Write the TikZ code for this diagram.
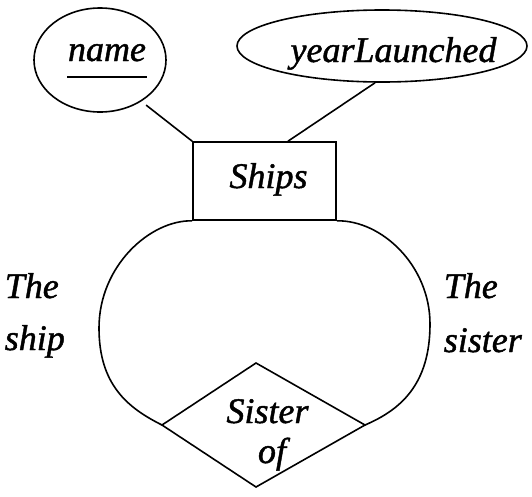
\documentclass[tikz,border=0pt]{standalone}
\usepackage{fontspec}
\setmainfont{Liberation Serif}
\newfontface\labelfont{Liberation Serif Italic}[FakeBold=1.2]
\usetikzlibrary{shapes.geometric}
\begin{document}
\begin{tikzpicture}[x=1pt,y=-1pt,line width=1.6pt,
  lbl/.style={font=\fontsize{36}{40}\selectfont\labelfont, inner sep=0pt, anchor=base},
  attr/.style={draw, ellipse, inner sep=0pt},
  entity/.style={draw, rectangle, inner sep=0pt}]
\useasboundingbox (0,0) rectangle (532,496);
% attributes
\node[attr, minimum width=132pt, minimum height=104pt] (name) at (100,60) {};
\node[attr, minimum width=290pt, minimum height=72pt] (year) at (382,46) {};
\node[lbl] (nametxt) at (107,61) {name};
\draw ([yshift=-16pt]nametxt.base west) -- ([yshift=-16pt]nametxt.base east);
\node[lbl] (yeartxt) at (393.5,62) {yearLaunched};
% entity
\node[entity, minimum width=143pt, minimum height=78pt] (ships) at (264.5,181) {};
\node[lbl] (shipstxt) at (268.5,188) {Ships};
% connectors
\draw[shorten >=6pt] (ships.north west) -- (name.-45);
\draw ([xshift=23.5pt]ships.north) -- ([xshift=-7pt]year.south);
% relationship
\coordinate (dL) at (162,425);
\coordinate (dR) at (365,425);
\coordinate (dT) at (256,363);
\coordinate (dB) at (256,487);
\draw[line join=miter] (dL) -- (dT) -- (dR) -- (dB) -- cycle;
\node[lbl] (sis1) at (267.5,423) {Sister};
\node[lbl] (sis2) at (272,463) {of};
% role loop
\draw (ships.south west) .. controls (150,220) and (99,266) .. (99,328)
      .. controls (99,385) and (128,408) .. (dL);
\draw (ships.south east) .. controls (382,220) and (430,266) .. (430,324)
      .. controls (430,385) and (400,410) .. (dR);
% role labels
\node[lbl, anchor=base west] (r1a) at (4,298) {The};
\node[lbl, anchor=base west] (r1b) at (4,350) {ship};
\node[lbl, anchor=base west] (r2a) at (443,298) {The};
\node[lbl, anchor=base west] (r2b) at (443,352) {sister};
\end{tikzpicture}
\end{document}
